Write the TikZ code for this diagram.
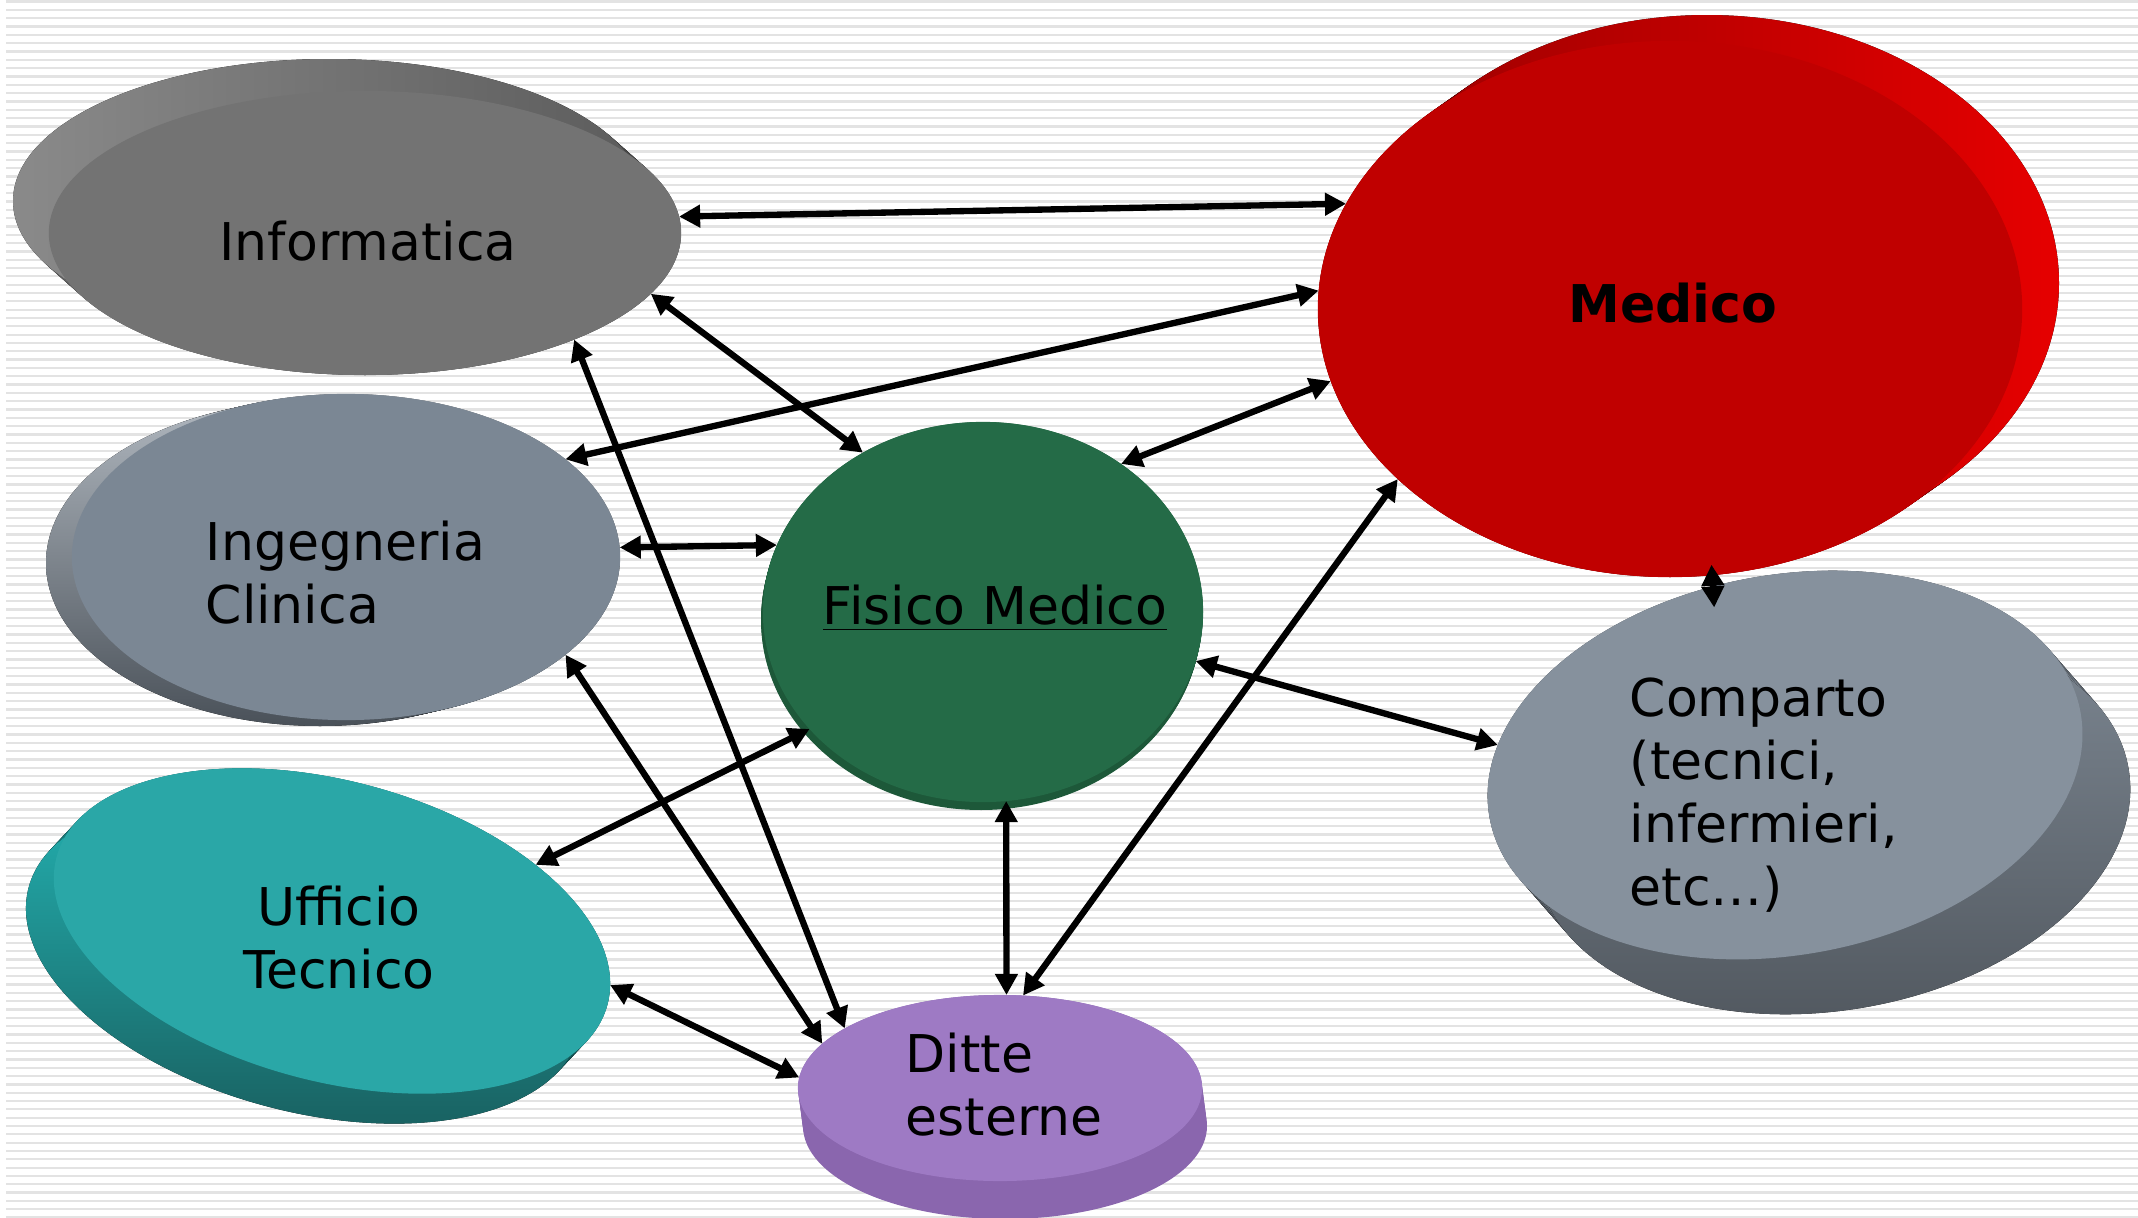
\documentclass[tikz,border=0pt]{standalone}
\usepackage{fontspec}
\setmainfont{DejaVu Sans}
\usetikzlibrary{arrows.meta,positioning,shapes.geometric}

\definecolor{stripeGray}{HTML}{E3E3E3}
\definecolor{infoFace}{HTML}{737373}
\definecolor{infoSideL}{HTML}{8A8A8A}
\definecolor{infoSideR}{HTML}{5C5C5C}
\definecolor{ingeFace}{HTML}{7B8794}
\definecolor{fisFace}{HTML}{246B47}
\definecolor{fisSide}{HTML}{1D5839}
\definecolor{medFace}{HTML}{C00000}
\definecolor{compFace}{HTML}{86919D}
\definecolor{uffFace}{HTML}{2AA7A7}
\definecolor{ditteFace}{HTML}{9E7AC4}
\definecolor{ditteSide}{HTML}{8A66AE}

\begin{document}
\begin{tikzpicture}[
    x=0.01cm, y=0.01cm,
    >={Triangle[length=6pt, width=6.2pt]}, % 三角箭頭
    link/.style={<->, line width=1.8pt},
    face/.style={ellipse, inner sep=0pt, outer sep=0pt},
    lbl/.style={font=\fontsize{14.8}{17.9}\selectfont, inner sep=0pt}
]

    % --- 1. 畫布與背景條紋 ---
    \useasboundingbox (0,0) rectangle (2138,-1218);
    \clip (0,0) rectangle (2138,-1218);
    \fill[white] (0,0) rectangle (2138,-1218);
    \foreach \i in {0,...,146} {
        \fill[stripeGray] (6,{-0.3-8.33*\i}) rectangle (2138,{-2.6-8.33*\i});
    }

    % --- 2. 側面 (立體厚度) ---
    \newcommand{\drawSide}[8]{
        % #1,#2: 正面中心, #3,#4: 偏移, #5,#6: 半徑, #7: 旋轉, #8: 顏色
        \foreach \k in {0,...,10}
            \fill[#8] ({#1+(#3)*\k/10},{#2+(#4)*\k/10}) circle [x radius=#5, y radius=#6, rotate=#7];
    }

    \drawSide{365}{-233}{-36}{32}{316}{142}{0}{left color=infoSideL, right color=infoSideR}
    \drawSide{346}{-557}{-26}{-6}{274}{163}{0}{top color=ingeFace!60!white, bottom color=ingeFace!60!black}
    \drawSide{983}{-612}{-2}{-8}{220}{190}{0}{fisSide}
    \drawSide{1670}{-309}{37}{26}{352}{268}{0}{left color=medFace!80!black, right color=red!90!black}
    \drawSide{1785}{-765}{48}{-55}{300}{190}{10}{top color=compFace!95!black, bottom color=compFace!60!black}
    \drawSide{332}{-931}{-28}{-30}{285}{150}{-15}{top color=uffFace!85!cyan, bottom color=uffFace!60!black}
    \drawSide{1000}{-1088}{5}{-38}{202}{93}{0}{ditteSide}

    % --- 3. 正面 (節點) ---
    \node[face, fill=infoFace, minimum width=6.32cm, minimum height=2.84cm] (disk_info) at (365,-233) {};
    \node[face, fill=ingeFace, minimum width=5.48cm, minimum height=3.26cm] (disk_inge) at (346,-557) {};
    \node[face, fill=fisFace, minimum width=4.40cm, minimum height=3.80cm] (disk_fis) at (983,-612) {};
    \node[face, fill=medFace, minimum width=7.04cm, minimum height=5.36cm] (disk_med) at (1670,-309) {};
    \node[face, fill=compFace, rotate=10, minimum width=6.00cm, minimum height=3.80cm] (disk_comp) at (1785,-765) {};
    \node[face, fill=uffFace, rotate=-15, minimum width=5.70cm, minimum height=3.00cm] (disk_uff) at (332,-931) {};
    \node[face, fill=ditteFace, minimum width=4.04cm, minimum height=1.86cm] (disk_ditte) at (1000,-1088) {};

    % --- 4. 文字 (多行: 以最後一行基線定位) ---
    \node[lbl, anchor=base] (lbl_info) at (368,-260) {Informatica};
    \node[lbl, anchor=base, font=\fontsize{14.8}{17.9}\selectfont\bfseries] (lbl_med) at (1673,-322) {Medico};
    \node[lbl, anchor=base] (lbl_fis) at (995,-624) {\underline{Fisico Medico}};
    \node[lbl, anchor=base west, align=left] (lbl_inge) at (205,-623) {Ingegneria\\Clinica};
    \node[lbl, anchor=base, align=center] (lbl_uff) at (339,-988) {Ufficio\\Tecnico};
    \node[lbl, anchor=base west, align=left] (lbl_ditte) at (905,-1135) {Ditte\\esterne};
    \node[lbl, anchor=base west, align=left] (lbl_comp) at (1629,-905) {Comparto\\(tecnici,\\infermieri,\\etc…)};

    % --- 5. 雙向箭頭 ---
    \draw[link] (disk_info.3.75) -- (disk_med.162.9);
    \draw[link] (disk_info.-12.1) -- (disk_fis.127.5);
    \draw[link] (disk_inge.24.1) -- (disk_med.177.7);
    \draw[link] (disk_inge.2.1) -- (disk_fis.162.8);
    \draw[link] (disk_info.-27.6) -- (disk_ditte.159.2);
    \draw[link] (disk_fis.47.6) -- (disk_med.-168.4);
    \draw[link] (disk_inge.-24.5) -- (disk_ditte.166.2);
    \draw[link] (disk_uff.33.4) -- (disk_fis.-146.7);
    \draw[link] (disk_uff.4.6) -- (disk_ditte.177.4);
    \draw[link] (disk_fis.-83.8) -- (disk_ditte.86.8);
    \draw[link] (disk_med.-148.5) -- (disk_ditte.76.9);
    \draw[link] (disk_fis.-13.8) -- (disk_comp.166.1);
    \draw[link, shorten <=-3pt, shorten >=-6pt] (disk_med.-81.3) -- (disk_comp.102.8);

\end{tikzpicture}
\end{document}
